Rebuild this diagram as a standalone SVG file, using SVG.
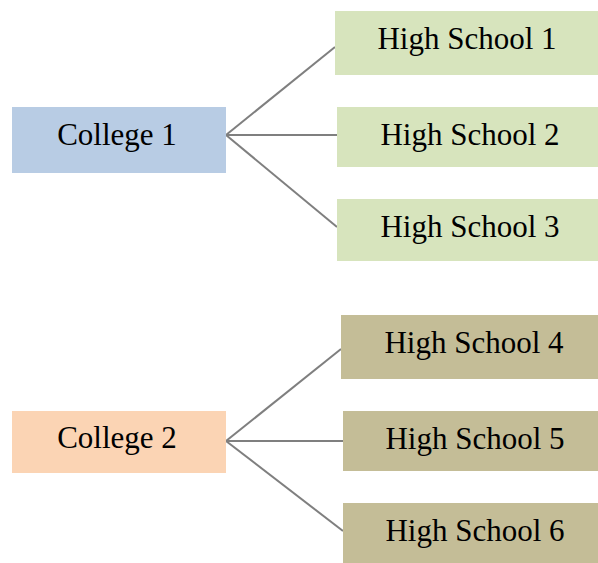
<svg xmlns="http://www.w3.org/2000/svg" width="598" height="563" viewBox="0 0 598 563">
  <style>
    .lbl { font-family: "Liberation Serif", "Times New Roman", serif; font-size: 31px; fill: #000; text-anchor: middle; }
    .college1 { fill: #B8CCE4; }
    .college2 { fill: #FBD4B4; }
    .hs-a { fill: #D7E4BD; }
    .hs-b { fill: #C4BD97; }
    .link { stroke: #7F7F7F; stroke-width: 2; fill: none; }
  </style>
  <rect width="598" height="563" fill="#fff"/>

  <g id="connectors">
    <line class="link" x1="226" y1="135" x2="335" y2="47"/>
    <line class="link" x1="226" y1="135" x2="337" y2="135"/>
    <line class="link" x1="226" y1="135" x2="337" y2="227"/>
    <line class="link" x1="226" y1="441" x2="341" y2="349"/>
    <line class="link" x1="226" y1="441" x2="343" y2="441"/>
    <line class="link" x1="226" y1="441" x2="343" y2="531"/>
  </g>

  <g id="college-1">
    <rect class="college1" x="12" y="107" width="214" height="66"/>
    <text class="lbl" x="117" y="145">College 1</text>
  </g>
  <g id="high-school-1">
    <rect class="hs-a" x="335" y="11" width="270" height="64"/>
    <text class="lbl" x="467" y="49">High School 1</text>
  </g>
  <g id="high-school-2">
    <rect class="hs-a" x="337" y="107" width="270" height="60"/>
    <text class="lbl" x="470" y="145">High School 2</text>
  </g>
  <g id="high-school-3">
    <rect class="hs-a" x="337" y="199" width="270" height="62"/>
    <text class="lbl" x="470" y="237">High School 3</text>
  </g>

  <g id="college-2">
    <rect class="college2" x="12" y="411" width="214" height="62"/>
    <text class="lbl" x="117" y="448">College 2</text>
  </g>
  <g id="high-school-4">
    <rect class="hs-b" x="341" y="315" width="270" height="64"/>
    <text class="lbl" x="474" y="353">High School 4</text>
  </g>
  <g id="high-school-5">
    <rect class="hs-b" x="343" y="411" width="270" height="60"/>
    <text class="lbl" x="475" y="449">High School 5</text>
  </g>
  <g id="high-school-6">
    <rect class="hs-b" x="343" y="503" width="270" height="62"/>
    <text class="lbl" x="475" y="541">High School 6</text>
  </g>
</svg>
